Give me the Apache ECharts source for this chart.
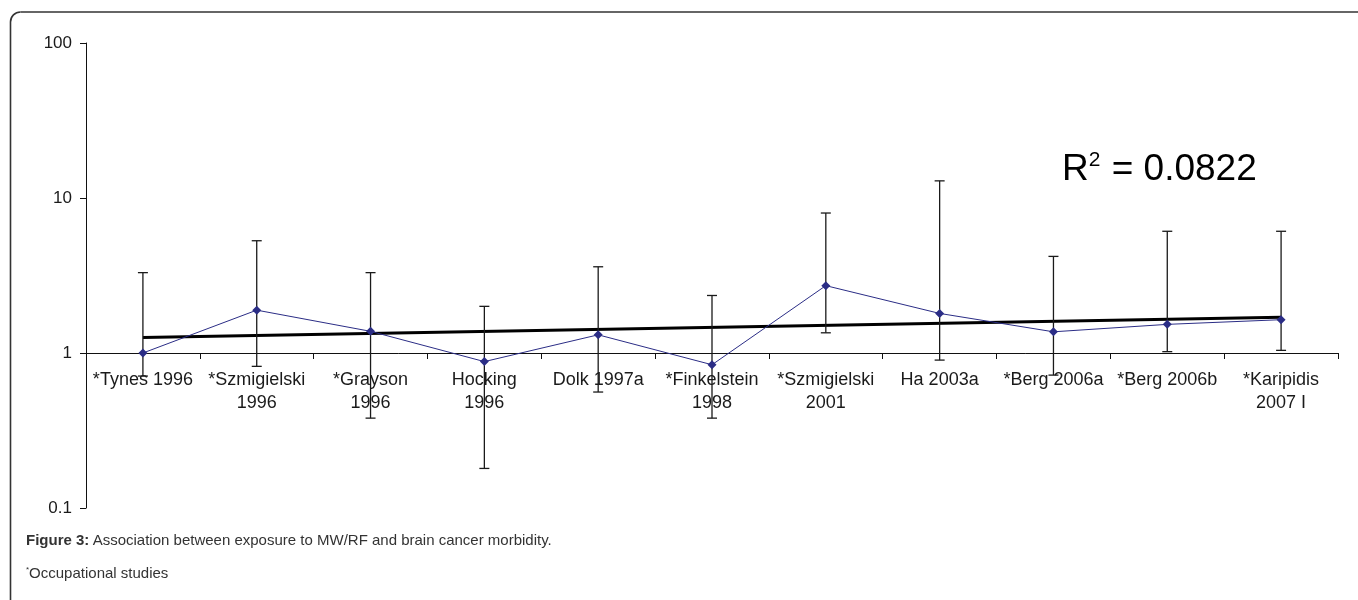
<!DOCTYPE html>
<html>
<head>
<meta charset="utf-8">
<script src="https://cdn.jsdelivr.net/npm/echarts@6/dist/echarts.min.js"></script>
<style>
  html, body { margin: 0; padding: 0; background: #fff; }
  #chart { width: 1358px; height: 600px; }
</style>
</head>
<body>
<div id="chart"></div>
<script>
// Studies (asterisk = occupational study)
const categories = [
  '*Tynes 1996', '*Szmigielski\n1996', '*Grayson\n1996', 'Hocking\n1996',
  'Dolk 1997a', '*Finkelstein\n1998', '*Szmigielski\n2001', 'Ha 2003a',
  '*Berg 2006a', '*Berg 2006b', '*Karipidis\n2007 I'
];
// Risk estimates with lower / upper confidence limits
const estimates = [1.0, 1.89, 1.38, 0.88, 1.31, 0.84, 2.72, 1.80, 1.37, 1.53, 1.64];
const lowerCI   = [0.71, 0.82, 0.38, 0.18, 0.56, 0.38, 1.35, 0.90, 0.72, 1.02, 1.04];
const upperCI   = [3.3, 5.3, 3.3, 2.0, 3.6, 2.35, 8.0, 12.9, 4.2, 6.1, 6.1];
// Fitted trend line at the first and last study
const trendEnds = [1.26, 1.70];
const rSquared = '0.0822';
const yTickLabels = ['0.1', '1', '10', '100'];

const chart = echarts.init(document.getElementById('chart'));

const errorData = categories.map((c, i) => [i, lowerCI[i], upperCI[i]]);
const last = categories.length - 1;
const frameStyle = { fill: 'none', stroke: '#333', lineWidth: 1.6 };
const FONT = 'Liberation Sans, Arial, sans-serif';

chart.setOption({
  animation: false,
  backgroundColor: '#fff',
  textStyle: { fontFamily: FONT },
  grid: { left: 86, right: 20, top: 43, bottom: 92, outerBoundsMode: 'none' },
  xAxis: {
    type: 'category',
    data: categories,
    boundaryGap: true,
    offset: -155,
    axisLine: { show: true, lineStyle: { color: '#111', width: 1 } },
    axisTick: { show: true, length: 6, lineStyle: { color: '#111' } },
    axisLabel: { color: '#1a1a1a', fontSize: 18, lineHeight: 23, margin: 16, interval: 0 },
    splitLine: { show: false }
  },
  yAxis: {
    type: 'log',
    logBase: 10,
    min: 0.1,
    max: 100,
    axisLine: { show: true, lineStyle: { color: '#111', width: 1 } },
    axisTick: { show: true, length: 6, lineStyle: { color: '#111' } },
    minorTick: { show: false },
    axisLabel: {
      color: '#1a1a1a', fontSize: 17, margin: 14,
      formatter: v => {
        const idx = Math.round(Math.log10(v)) + 1;
        return yTickLabels[idx] != null ? yTickLabels[idx] : '';
      }
    },
    splitLine: { show: false }
  },
  series: [
    {
      name: 'trend',
      type: 'line',
      data: [[0, trendEnds[0]], [last, trendEnds[1]]],
      symbol: 'none',
      lineStyle: { color: '#000', width: 3 },
      z: 2
    },
    {
      name: 'ci',
      type: 'custom',
      data: errorData,
      encode: { x: 0, y: [1, 2] },
      z: 3,
      renderItem: (params, api) => {
        const i = api.value(0);
        const lo = api.coord([i, api.value(1)]);
        const hi = api.coord([i, api.value(2)]);
        const cap = 5;
        const style = { stroke: '#1a1a1a', lineWidth: 1.3 };
        return {
          type: 'group',
          children: [
            { type: 'line', shape: { x1: lo[0], y1: lo[1], x2: hi[0], y2: hi[1] }, style },
            { type: 'line', shape: { x1: hi[0] - cap, y1: hi[1], x2: hi[0] + cap, y2: hi[1] }, style },
            { type: 'line', shape: { x1: lo[0] - cap, y1: lo[1], x2: lo[0] + cap, y2: lo[1] }, style }
          ]
        };
      }
    },
    {
      name: 'estimate',
      type: 'line',
      data: estimates,
      symbol: 'diamond',
      symbolSize: 9,
      itemStyle: { color: '#2b2d86' },
      lineStyle: { color: '#2b2d86', width: 1 },
      z: 4
    }
  ],
  graphic: [
    {
      type: 'line', silent: true,
      shape: { x1: 10.5, y1: 22, x2: 10.5, y2: 600 },
      style: frameStyle
    },
    {
      type: 'arc', silent: true,
      shape: { cx: 20.5, cy: 22, r: 10, startAngle: Math.PI, endAngle: Math.PI * 1.5 },
      style: frameStyle
    },
    {
      type: 'line', silent: true,
      shape: { x1: 20.5, y1: 12, x2: 1358, y2: 12 },
      style: frameStyle
    },
    {
      type: 'text',
      left: 1062,
      top: 150,
      style: {
        text: '{r|R}{s|2}{r| = ' + rSquared + '}',
        rich: {
          r: { fontSize: 37, fontFamily: FONT, fill: '#000' },
          s: { fontSize: 21, fontFamily: FONT, fill: '#000', verticalAlign: 'top', padding: [0, 1, 18, 0] }
        }
      }
    },
    {
      type: 'text',
      left: 26,
      top: 533,
      style: {
        text: '{b|Figure 3:} {n|Association between exposure to MW/RF and brain cancer morbidity.}',
        rich: {
          b: { fontSize: 15, fontWeight: 'bold', fill: '#333', fontFamily: FONT },
          n: { fontSize: 15, fill: '#333', fontFamily: FONT }
        }
      }
    },
    {
      type: 'text',
      left: 26,
      top: 566,
      style: {
        text: '{s|*}{n|Occupational studies}',
        rich: {
          s: { fontSize: 8, fill: '#333', verticalAlign: 'top', padding: [0, 0, 8, 0] },
          n: { fontSize: 15, fill: '#333', fontFamily: FONT }
        }
      }
    }
  ]
});
</script>
</body>
</html>
